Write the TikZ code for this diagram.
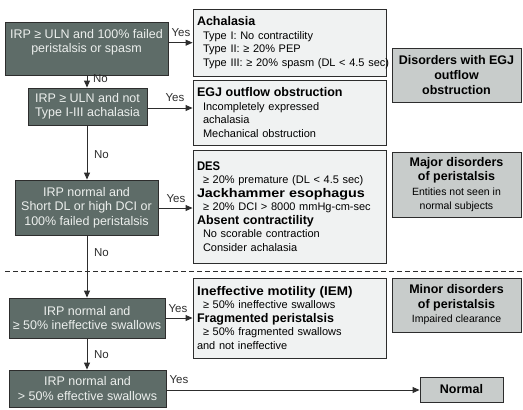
\documentclass[tikz,border=0pt]{standalone}
\usepackage{fontspec}
\usepackage{graphicx}
\setmainfont{Liberation Sans}
\usetikzlibrary{arrows.meta}
\definecolor{darkc}{RGB}{94,108,104}
\definecolor{darktxt}{RGB}{236,239,237}
\definecolor{infoc}{RGB}{240,242,242}
\definecolor{catc}{RGB}{200,204,203}
\definecolor{edgec}{RGB}{45,45,45}
\newcommand{\myhd}[2][1]{\scalebox{#1}[1]{\fontsize{12.5}{13.5}\selectfont\bfseries #2}}
\newcommand{\myitem}[1]{\mbox{\hspace*{6pt}#1}}
\newcommand{\myplain}[1]{\mbox{#1}}
\begin{document}
\begin{tikzpicture}[x=1pt,y=-1pt,
  darkbox/.style={draw=edgec, fill=darkc, line width=0.9pt, inner sep=0pt, text=darktxt, align=center, font=\fontsize{12.5}{14.5}\selectfont},
  darktext/.style={inner sep=0pt, text=darktxt, align=center, font=\fontsize{12.5}{14.5}\selectfont},
  info/.style={draw=edgec, fill=infoc, line width=0.9pt, inner xsep=4pt, inner ysep=0pt, text width=185pt, align=left, font=\fontsize{11}{13.5}\selectfont},
  catbox/.style={draw=edgec, fill=catc, line width=0.9pt, inner sep=0pt, align=center, font=\fontsize{10.5}{14.5}\selectfont},
  arr/.style={draw=edgec, line width=0.9pt, -{Triangle[length=7pt,width=6pt]}},
  lbl/.style={inner sep=0pt, text=edgec, font=\fontsize{11.5}{13}\selectfont},
  sep/.style={draw=edgec, line width=0.8pt, dash pattern=on 5pt off 3pt}
]
\useasboundingbox (0,0) rectangle (523,410);

% decision boxes
\node[darkbox, minimum width=163pt, minimum height=53pt] (d1) at (86.5,48.5) {};
\node[darktext] (d1t) at (86.5,42.5) {IRP ≥ ULN and 100\% failed\\peristalsis or spasm};
\node[darkbox, minimum width=119pt, minimum height=37pt] (d2) at (87.5,106.5) {IRP ≥ ULN and not\\Type I-III achalasia};
\node[darkbox, minimum width=143pt, minimum height=55pt] (d3) at (86.5,207.5) {IRP normal and\\Short DL or high DCI or\\100\% failed peristalsis};
\node[darkbox, minimum width=156pt, minimum height=40pt] (d4) at (87,318) {IRP normal and\\≥ 50\% ineffective swallows};
\node[darkbox, minimum width=157pt, minimum height=37pt] (d5) at (87.5,388.5) {IRP normal and\\> 50\% effective swallows};

% result boxes
\node[info, minimum height=67pt] (a) at (289.5,42.5) {\myhd{Achalasia}\\\myitem{Type I: No contractility}\\\myitem{Type II: ≥ 20\% PEP}\\\myitem{Type III: ≥ 20\% spasm (DL < 4.5 sec)}};
\node[info, minimum height=65pt] (b) at (289.5,112.5) {\myhd{EGJ outflow obstruction}\\\myitem{Incompletely expressed}\\\myitem{achalasia}\\\myitem{Mechanical obstruction}};
\node[info, minimum height=113pt] (c) at (289.5,206.5) {\myhd[0.9]{DES}\\\myitem{≥ 20\% premature (DL < 4.5 sec)}\\\myhd[1.15]{Jackhammer esophagus}\\\myitem{≥ 20\% DCI > 8000 mmHg-cm-sec}\\\myhd{Absent contractility}\\\myitem{No scorable contraction}\\\myitem{Consider achalasia}};
\node[info, minimum height=80pt] (d) at (289.5,318) {\myhd[1.08]{Ineffective motility (IEM)}\\\myitem{≥ 50\% ineffective swallows}\\\myhd{Fragmented peristalsis}\\\myitem{≥ 50\% fragmented swallows}\\\myplain{and not ineffective}};
\node[draw=edgec, fill=catc, line width=0.9pt, inner sep=0pt, minimum width=83pt, minimum height=25pt, font=\fontsize{12.5}{14}\selectfont\bfseries] (n) at (461.5,389.5) {Normal};

% category boxes
\node[catbox, minimum width=129pt, minimum height=54pt, font=\fontsize{12.5}{15}\selectfont\bfseries] (g1) at (456.5,75) {Disorders with EGJ\\outflow\\obstruction};
\node[catbox, minimum width=129pt, minimum height=65pt] (g2) at (456.5,184.5) {{\fontsize{12.5}{15}\selectfont\bfseries Major disorders}\\{\fontsize{12.5}{15}\selectfont\bfseries of peristalsis}\\Entities not seen in\\normal subjects};
\node[catbox, minimum width=129pt, minimum height=54pt] (g3) at (456.5,305) {{\fontsize{12.5}{15}\selectfont\bfseries Minor disorders}\\{\fontsize{12.5}{15}\selectfont\bfseries of peristalsis}\\Impaired clearance};

% separator
\draw[sep] (5,271) -- (523,271);

% connector rows
\coordinate (y1) at (0,42.7);
\coordinate (y2) at (0,108);
\coordinate (y3) at (0,208);
\coordinate (y4) at (0,318);
\coordinate (y5) at (0,390);
\coordinate (vx) at (87,0);

\draw[arr] (d1.east |- y1) -- (a.west |- y1);
\draw[arr] (d2.east |- y2) -- (b.west |- y2);
\draw[arr] (d3.east |- y3) -- (c.west |- y3);
\draw[arr] (d4.east |- y4) -- (d.west |- y4);
\draw[arr] (d5.east |- y5) -- (n.west |- y5);

\draw[arr] (d1.south -| vx) -- (d2.north -| vx);
\draw[arr] (d2.south -| vx) -- (d3.north -| vx);
\draw[arr] (d3.south -| vx) -- (d4.north -| vx);
\draw[arr] (d4.south -| vx) -- (d5.north -| vx);

% labels
\node[lbl] (yes1) at (181,32.5) {Yes};
\node[lbl] (yes2) at (175,98) {Yes};
\node[lbl] (yes3) at (176,198.5) {Yes};
\node[lbl] (yes4) at (178,309) {Yes};
\node[lbl] (yes5) at (179,380) {Yes};
\node[lbl] (no1) at (100.5,79) {No};
\node[lbl] (no2) at (101.5,155) {No};
\node[lbl] (no3) at (101.5,253) {No};
\node[lbl] (no4) at (101.5,355) {No};
\end{tikzpicture}
\end{document}
